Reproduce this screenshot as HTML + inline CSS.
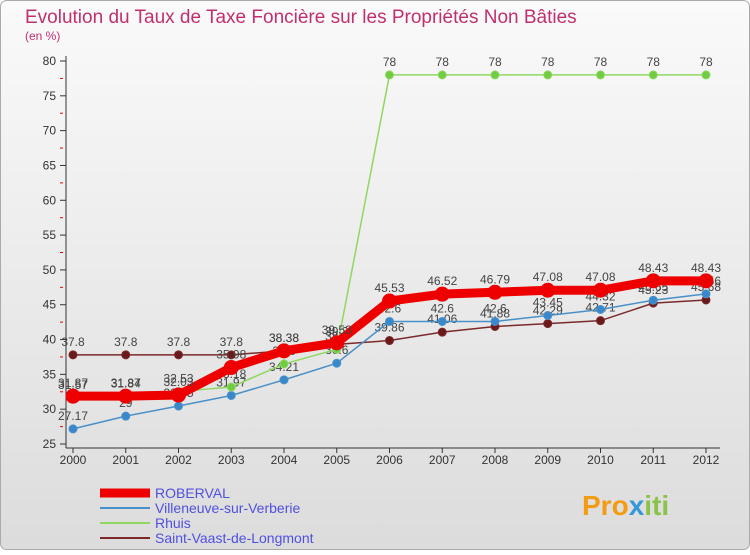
<!DOCTYPE html>
<html><head><meta charset="utf-8"><style>
body{margin:0;background:#fff}
svg text{font-family:"Liberation Sans",sans-serif}
</style></head><body>
<svg width="750" height="550" xmlns="http://www.w3.org/2000/svg">
<defs><linearGradient id="bg" x1="0" y1="0" x2="0" y2="1"><stop offset="0" stop-color="#fafafa"/><stop offset="1" stop-color="#dcdcdc"/></linearGradient></defs>
<rect x="0.5" y="0.5" width="749" height="549" rx="6" fill="url(#bg)" stroke="#aaa"/>
<text x="25" y="23" font-size="19" fill="#c03070">Evolution du Taux de Taxe Foncière sur les Propriétés Non Bâties</text>
<text x="25" y="40" font-size="12" fill="#c03070">(en %)</text>
<g id="axes"></g><g id="series"></g>
<g id="legend"></g>
<text x="582" y="515" font-size="28" font-weight="bold" fill="#f39c12">Pro<tspan fill="#3498db">x</tspan><tspan fill="#8bc34a">iti</tspan></text>
</svg>
<script>
const years=[2000,2001,2002,2003,2004,2005,2006,2007,2008,2009,2010,2011,2012];
const yTicks=[25,30,35,40,45,50,55,60,65,70,75,80];
const roberval=[31.87,31.87,32.03,35.98,38.38,39.53,45.53,46.52,46.79,47.08,47.08,48.43,48.43];
const villeneuve=[27.17,29,30.45,31.97,34.21,36.6,42.6,42.6,42.6,43.45,44.32,45.65,46.56];
const rhuis=[31.57,31.84,32.53,33.18,36.5,38.6,78,78,78,78,78,78,78];
const stvaast=[37.8,37.8,37.8,37.8,38.38,39.3,39.86,41.06,41.88,42.29,42.71,45.23,45.68];
const NS='http://www.w3.org/2000/svg';
const X=i=>73+i*52.75, Y=v=>444-(v-25)*(383/55);
function mk(t,a,p){const e=document.createElementNS(NS,t);for(const k in a)e.setAttribute(k,a[k]);p.appendChild(e);return e;}
const ax=document.getElementById('axes');
yTicks.forEach(v=>{mk('line',{x1:60,x2:66,y1:Y(v),y2:Y(v),stroke:'#333'},ax);
const t=mk('text',{x:56,y:Y(v)+4,'font-size':12,'text-anchor':'end',fill:'#333'},ax);t.textContent=v;


if(v<80){const m=mk('line',{x1:60,x2:63,y1:Y(v+2.5),y2:Y(v+2.5),stroke:'#e00'},ax);}});
mk('line',{x1:66,x2:66,y1:56,y2:448,stroke:'#333'},ax);
mk('line',{x1:66,x2:720,y1:448,y2:448,stroke:'#333'},ax);
years.forEach((y,i)=>{mk('line',{x1:X(i),x2:X(i),y1:448,y2:453,stroke:'#333'},ax);
const t=mk('text',{x:X(i),y:464,'font-size':12,'text-anchor':'middle',fill:'#333'},ax);t.textContent=y;

});
const sg=document.getElementById('series');
function series(d,col,w,r,name,dot){
const g=mk('g',{},sg);


mk('polyline',{points:d.map((v,i)=>X(i)+','+Y(v)).join(' '),fill:'none',stroke:col,'stroke-width':w},g);
d.forEach((v,i)=>{const c=mk('circle',{cx:X(i),cy:Y(v),r:r,fill:dot,stroke:col,'stroke-width':1},g);


const t=mk('text',{x:X(i),y:Y(v)-9,'font-size':12,'text-anchor':'middle',fill:'#444'},g);t.textContent=v;});}
series(stvaast,'#7a2a2a',1.5,4,'saint-vaast-series','#6a1a1a');
series(villeneuve,'#4a90c8',1.5,4,'villeneuve-series','#3a88cc');
series(rhuis,'#8fd860',1.5,4,'rhuis-series','#70cc40');
series(roberval,'#ee0000',9,7,'roberval-series','#ee0000');
const lg=document.getElementById('legend');
const ln=['ROBERVAL','Villeneuve-sur-Verberie','Rhuis','Saint-Vaast-de-Longmont'];
const lc=['#ee0000','#4a90c8','#8fd860','#7a2a2a'];const lw=[9,2,2,2];
ln.forEach((n,i)=>{const y=493+i*15;
const g=mk('g',{},lg);


mk('line',{x1:100,x2:150,y1:y,y2:y,stroke:lc[i],'stroke-width':lw[i]},g);
const t=mk('text',{x:155,y:y+5,'font-size':14,fill:'#5050e0'},g);t.textContent=n;});
</script>
</body></html>
